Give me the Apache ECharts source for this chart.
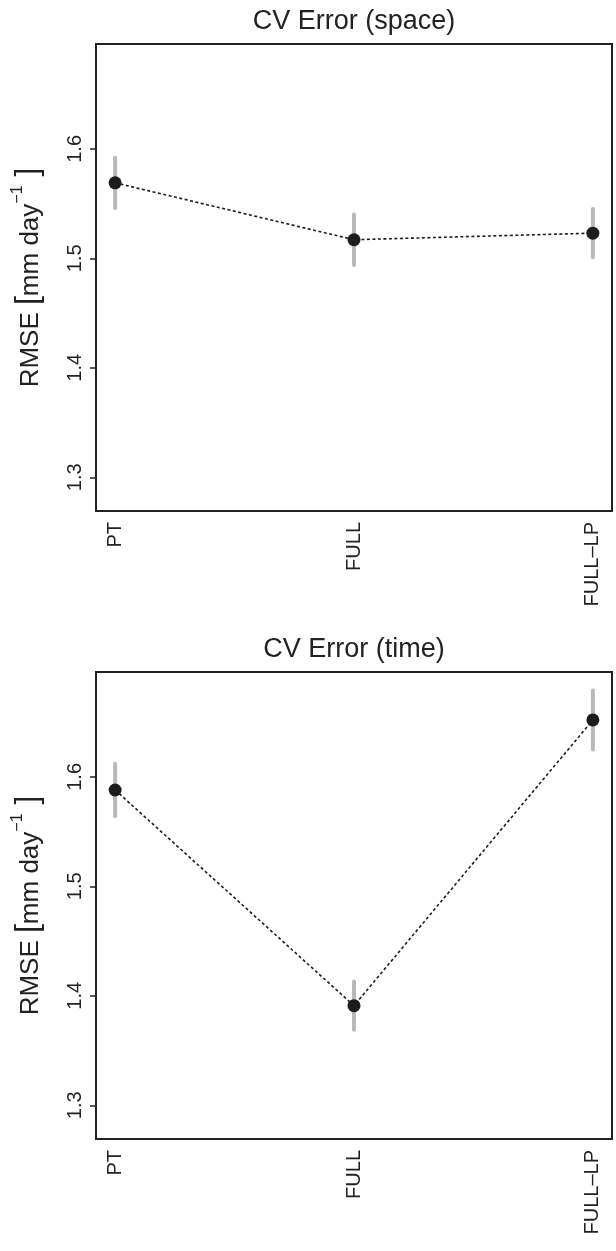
<!DOCTYPE html>
<html>
<head>
<meta charset="utf-8">
<script src="https://cdn.jsdelivr.net/npm/echarts@6/dist/echarts.min.js"></script>
<style>
html,body{margin:0;padding:0;background:#fff;}
#c{width:616px;height:1251px;}
</style>
</head>
<body>
<div id="c"></div>
<script>
// ---- data ----
const categories = ['PT', 'FULL', 'FULL\u2013LP'];
const catPositions = [1, 2, 3];
const spaceRmse = [1.569, 1.517, 1.523];
const spaceErr = [0.023, 0.023, 0.022];
const timeRmse = [1.588, 1.391, 1.652];
const timeErr = [0.024, 0.022, 0.027];
const yTicks = [1.3, 1.4, 1.5, 1.6];
const titles = ['CV Error (space)', 'CV Error (time)'];

const FONT = '"Liberation Sans", Arial, Helvetica, sans-serif';
const chart = echarts.init(document.getElementById('c'), null, {renderer: 'canvas'});

const gridTops = [44, 672];
const GRID_LEFT = 96, GRID_W = 516, GRID_H = 467;

function pointData(vals) { return vals.map((v, i) => [catPositions[i], v]); }
function barData(vals, errs) { return vals.map((v, i) => [catPositions[i], v, errs[i]]); }

const grids = gridTops.map(t => ({
  left: GRID_LEFT, top: t, width: GRID_W, height: GRID_H,
  show: true, borderColor: '#222', borderWidth: 2, backgroundColor: 'transparent'
}));

const xAxes = gridTops.map((t, i) => ({
  type: 'value', gridIndex: i, min: 0.92, max: 3.08,
  splitLine: {show: false},
  axisLine: {show: false},
  axisTick: {show: false},
  axisLabel: {
    customValues: catPositions,
    rotate: 90, margin: 11,
    fontFamily: FONT, fontSize: 20, color: '#222',
    formatter: v => categories[catPositions.indexOf(Math.round(v))] || ''
  }
}));

const yAxes = gridTops.map((t, i) => ({
  type: 'value', gridIndex: i, min: 1.2692, max: 1.6958,
  splitLine: {show: false},
  axisLine: {show: false},
  axisTick: {show: true, customValues: yTicks, length: 6, lineStyle: {color: '#222', width: 1.5}},
  axisLabel: {
    customValues: yTicks, rotate: 90, margin: 11,
    fontFamily: FONT, fontSize: 20, color: '#222',
    formatter: v => v.toFixed(1)
  },
  name: '{a|RMSE }{b|[}{a|mm day}{s|\u22121}{b| ]}',
  nameLocation: 'middle', nameRotate: 90, nameGap: 52,
  nameTextStyle: {
    rich: {
      a: {fontFamily: FONT, fontSize: 26, color: '#222', lineHeight: 34, verticalAlign: 'bottom'},
      b: {fontFamily: FONT, fontSize: 32, color: '#222', lineHeight: 34, verticalAlign: 'bottom'},
      s: {fontFamily: FONT, fontSize: 16, color: '#222', lineHeight: 16, verticalAlign: 'top'}
    }
  }
}));

const series = [];
[[spaceRmse, spaceErr], [timeRmse, timeErr]].forEach(([vals, errs], i) => {
  series.push({
    type: 'custom', xAxisIndex: i, yAxisIndex: i, z: 1,
    data: barData(vals, errs),
    encode: {x: 0, y: 1},
    renderItem: (params, api) => {
      const x = api.value(0), y = api.value(1), e = api.value(2);
      const p1 = api.coord([x, y - e]), p2 = api.coord([x, y + e]);
      return {type: 'line', shape: {x1: p1[0], y1: p1[1], x2: p2[0], y2: p2[1]},
        style: {stroke: '#b9b9b9', lineWidth: 4, lineCap: 'round'}};
    }
  });
  series.push({
    type: 'line', xAxisIndex: i, yAxisIndex: i, z: 2,
    data: pointData(vals),
    symbol: 'circle', symbolSize: 13,
    itemStyle: {color: '#1c1c1c'},
    lineStyle: {color: '#1c1c1c', width: 1.6, type: [3, 2.5]}
  });
});

chart.setOption({
  animation: false,
  backgroundColor: '#fff',
  title: titles.map((t, i) => ({
    text: t, left: GRID_LEFT + GRID_W / 2, textAlign: 'center',
    top: gridTops[i] - 36, padding: 0,
    textStyle: {fontFamily: FONT, fontSize: 27, fontWeight: 'normal', color: '#222'}
  })),
  grid: grids,
  xAxis: xAxes,
  yAxis: yAxes,
  series: series
});
</script>
</body>
</html>
